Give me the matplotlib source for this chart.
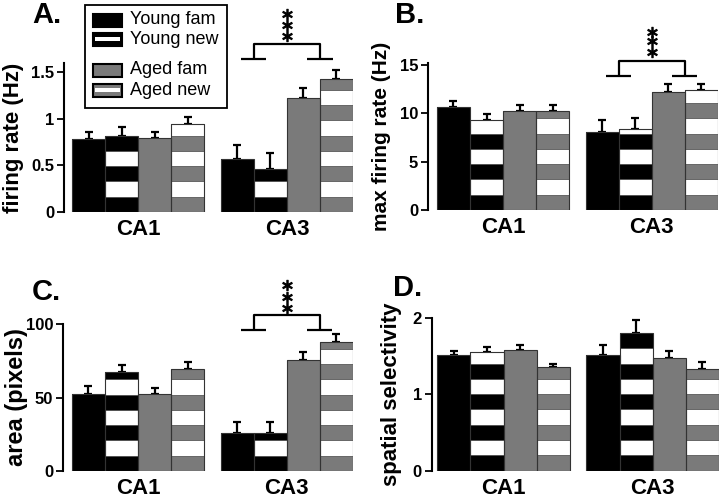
import numpy as np
import matplotlib
matplotlib.use('Agg')
import matplotlib.pyplot as plt
from matplotlib.patches import Rectangle

plt.rcParams['font.family'] = ['Liberation Sans', 'DejaVu Sans']

W, H = 720, 503
GRAY = '#7a7a7a'

regions = ['CA1', 'CA3']
groups = ['Young fam', 'Young new', 'Aged fam', 'Aged new']

# values per group: [CA1, CA3]
fr_mean = {'Young fam': [0.78, 0.57], 'Young new': [0.82, 0.46],
           'Aged fam': [0.80, 1.22], 'Aged new': [0.95, 1.43]}
fr_err = {'Young fam': [0.08, 0.15], 'Young new': [0.09, 0.17],
          'Aged fam': [0.06, 0.11], 'Aged new': [0.07, 0.10]}

mfr_mean = {'Young fam': [10.6, 8.0], 'Young new': [9.3, 8.4],
            'Aged fam': [10.2, 12.2], 'Aged new': [10.2, 12.4]}
mfr_err = {'Young fam': [0.6, 1.3], 'Young new': [0.6, 1.05],
           'Aged fam': [0.6, 0.8], 'Aged new': [0.6, 0.6]}

area_mean = {'Young fam': [52.2, 25.6], 'Young new': [67.3, 25.9],
             'Aged fam': [52.2, 75.3], 'Aged new': [69.4, 87.8]}
area_err = {'Young fam': [5.4, 8.0], 'Young new': [5.0, 7.2],
            'Aged fam': [4.0, 5.4], 'Aged new': [4.7, 5.4]}

ss_mean = {'Young fam': [1.51, 1.51], 'Young new': [1.55, 1.81],
           'Aged fam': [1.58, 1.47], 'Aged new': [1.36, 1.33]}
ss_err = {'Young fam': [0.06, 0.14], 'Young new': [0.07, 0.17],
          'Aged fam': [0.06, 0.10], 'Aged new': [0.04, 0.10]}

base_col = {'Young fam': 'black', 'Young new': 'black',
            'Aged fam': GRAY, 'Aged new': GRAY}
striped = {'Young fam': False, 'Young new': True,
           'Aged fam': False, 'Aged new': True}

fig = plt.figure(figsize=(W / 100, H / 100), dpi=100)


def px_rect(left, top, right, bottom):
    return [left / W, 1 - bottom / H, (right - left) / W, (bottom - top) / H]


def panel(rect, means, errs, ylim, yticks, yticklabels, ylabel, label_x,
          label_fs, letter, letter_xy, bracket=None, x0=-0.75):
    ax = fig.add_axes(px_rect(*rect))
    ax.set_xlim(x0, 8.0)
    ax.set_ylim(*ylim)
    h_px = rect[3] - rect[1]
    band = 15.3 / (h_px / (ylim[1] - ylim[0]))

    for gi, g in enumerate(groups):
        xs = np.array([gi, gi + 4.5])
        vals = np.array(means[g])
        ax.bar(xs, vals, width=1.0, color=base_col[g], linewidth=0, zorder=2)
        if striped[g]:
            for x, v in zip(xs, vals):
                k = 1
                while k * band < v:
                    b = k * band
                    ax.bar(x, min(band, v - b), bottom=b, width=1.0,
                           color='white', edgecolor='#444444', linewidth=0.5,
                           zorder=3)
                    k += 2
        ax.bar(xs, vals, width=1.0, fill=False, edgecolor='#333333',
               linewidth=0.8, zorder=4)
        ax.errorbar(xs, vals, yerr=[np.zeros(2), errs[g]], fmt='none',
                    ecolor='black', elinewidth=1.6, capsize=3, capthick=1.6,
                    zorder=1)

    for s in ['top', 'right', 'bottom']:
        ax.spines[s].set_visible(False)
    ax.spines['left'].set_linewidth(1.5)
    ax.set_yticks(yticks)
    ax.set_yticklabels(yticklabels, fontsize=12, fontweight='bold')
    ax.tick_params(axis='y', length=5, width=1.3, pad=2)
    ax.set_xticks([1.5, 6.0])
    ax.set_xticklabels(regions, fontsize=16, fontweight='bold')
    ax.tick_params(axis='x', length=0, pad=5)
    ax.set_ylabel(ylabel, fontsize=label_fs, fontweight='bold', va='center')
    ax.yaxis.set_label_coords(label_x, 0.5)

    fig.text(letter_xy[0] / W, 1 - letter_xy[1] / H, letter, fontsize=21,
             fontweight='bold', va='baseline', ha='left')

    if bracket is not None:
        yf, yt, stars = bracket
        kw = dict(color='black', lw=1.6, clip_on=False, solid_capstyle='butt')
        ax.plot([4.62, 5.38], [yf, yf], **kw)
        ax.plot([6.62, 7.38], [yf, yf], **kw)
        ax.plot([5.0, 5.0, 7.0, 7.0], [yf, yt, yt, yf], **kw)
        ax.plot([6.0] * 3, stars, linestyle='none', marker='$\\ast$',
                markersize=7.5, markeredgewidth=0.7, color='black',
                clip_on=False)
    return ax


axA = panel((64, 63, 353, 212), fr_mean, fr_err, (0, 1.6),
            [0, 0.5, 1, 1.5], ['0', '0.5', '1', '1.5'], 'firing rate (Hz)',
            -0.175, 16, 'A.', (32, 23),
            bracket=(1.64, 1.80, [1.89, 2.01, 2.13]))

axB = panel((428, 62.7, 718, 210), mfr_mean, mfr_err, (0, 15.2),
            [0, 5, 10, 15], ['0', '5', '10', '15'], 'max firing rate (Hz)',
            -0.16, 15, 'B.', (395, 23),
            bracket=(13.85, 15.4, [16.3, 17.4, 18.4]), x0=-0.77)

axC = panel((63, 324, 353, 471), area_mean, area_err, (0, 100),
            [0, 50, 100], ['0', '50', '100'], 'area (pixels)',
            -0.16, 17, 'C.', (32, 300),
            bracket=(95.9, 106.1, [110.9, 118.4, 126.5]), x0=-0.77)

axD = panel((431.7, 318, 719, 470.7), ss_mean, ss_err, (0, 2.0),
            [0, 1, 2], ['0', '1', '2'], 'spatial selectivity',
            -0.14, 16, 'D.', (393, 296), x0=-0.67)

# legend box drawn in figure pixels
def fx(x):
    return x / W


def fy(y):
    return 1 - y / H


fig.add_artist(Rectangle((fx(85), fy(108)), (227 - 85) / W, (108 - 5) / H,
                         transform=fig.transFigure, fill=False,
                         edgecolor='black', lw=1.3))
rows = [20, 39, 70, 90]
for g, yc in zip(groups, rows):
    ph = 13
    fig.add_artist(Rectangle((fx(93), fy(yc + ph / 2)), 29 / W, ph / H,
                             transform=fig.transFigure,
                             facecolor=base_col[g], edgecolor='black', lw=1.5))
    if striped[g]:
        fig.add_artist(Rectangle((fx(95), fy(yc + 2)), 25 / W, 4 / H,
                                 transform=fig.transFigure,
                                 facecolor='white', edgecolor='none'))
    fig.text(fx(130), fy(yc), g, fontsize=13, va='center', ha='left')

fig.savefig('out.png', dpi=100)
